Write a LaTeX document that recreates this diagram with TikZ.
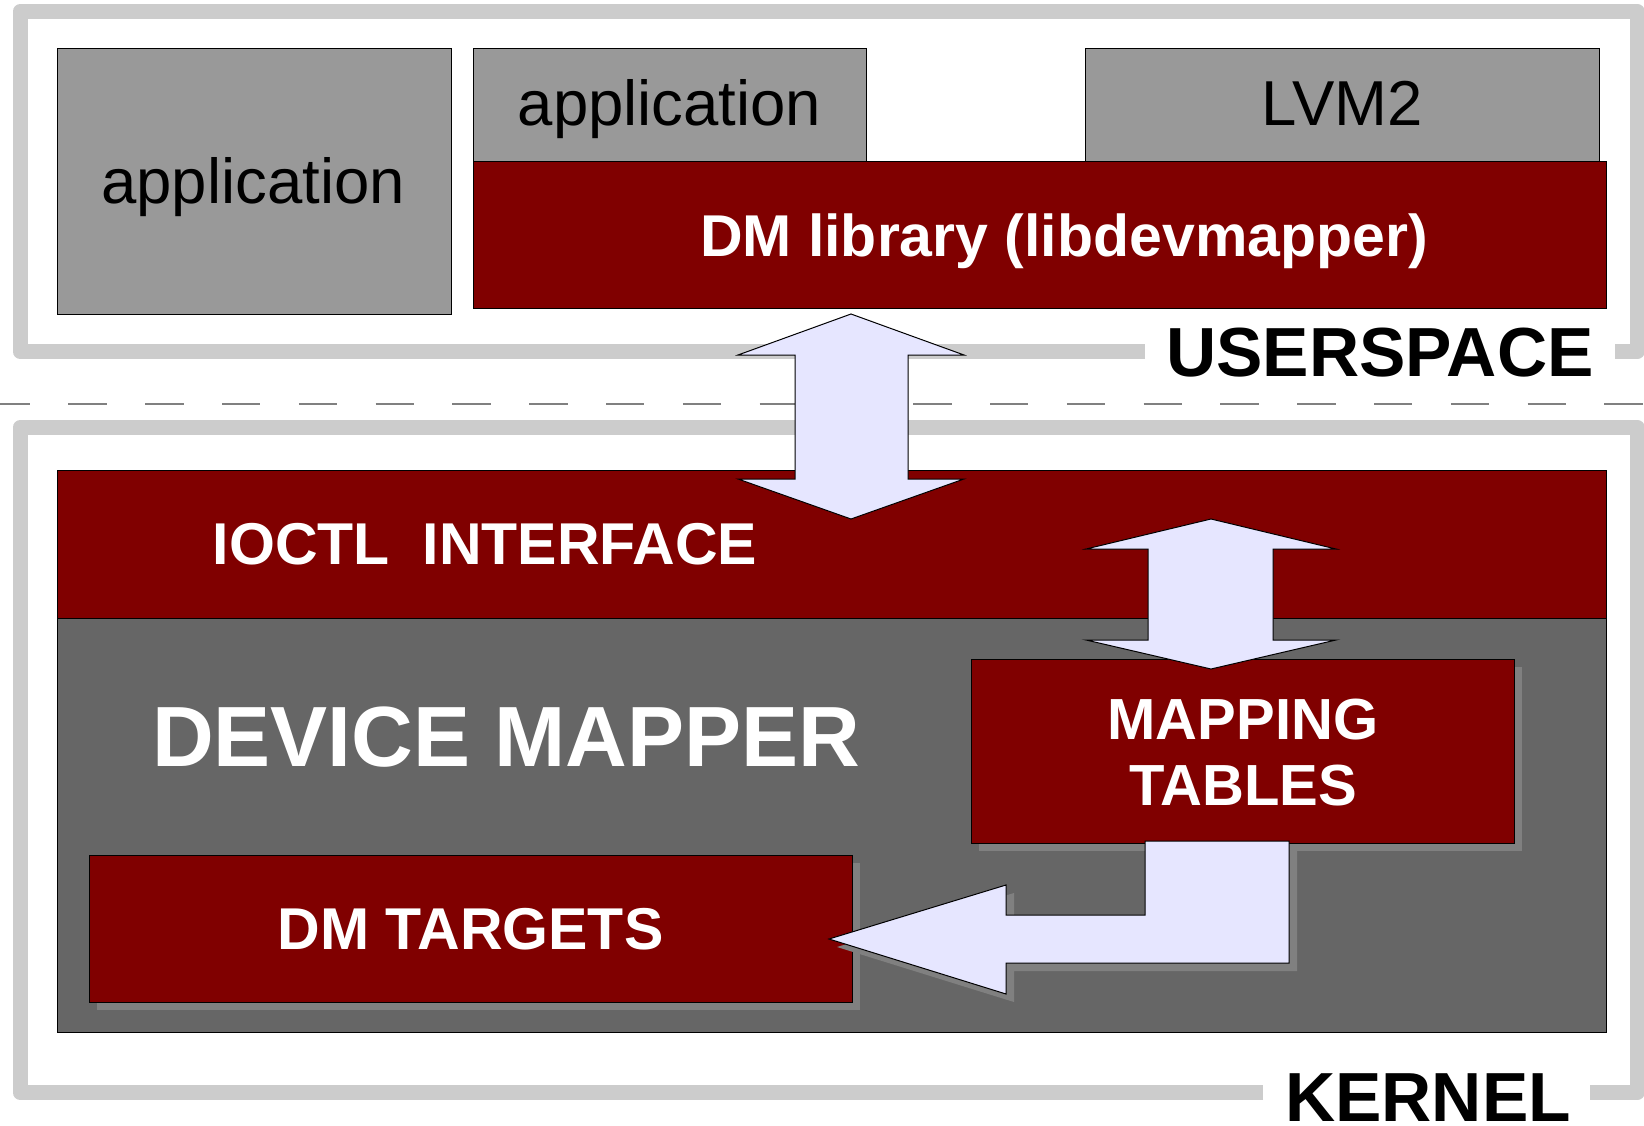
\documentclass[tikz,border=0pt]{standalone}
\usepackage{fontspec}
\setmainfont{Liberation Sans}
\definecolor{dmred}{HTML}{800000}
\definecolor{appgray}{HTML}{999999}
\definecolor{dmgray}{HTML}{666666}
\definecolor{shade}{HTML}{808080}
\definecolor{arrowfill}{HTML}{E6E6FF}
\definecolor{framegray}{HTML}{CCCCCC}
\begin{document}
\begin{tikzpicture}[x=1pt,y=-1pt,
  frame/.style={draw=framegray, line width=15pt, line join=round},
  gbox/.style={fill=appgray, draw=black, line width=1pt},
  rbox/.style={fill=dmred, draw=black, line width=1pt},
  shadowbox/.style={fill=shade},
  blockarrow/.style={fill=arrowfill, draw=black, line width=1pt, line join=miter},
  plaintext/.style={font=\fontsize{63.5}{70}\selectfont, text=black, inner sep=0pt, anchor=base},
  boxtext/.style={font=\fontsize{59}{66}\selectfont\bfseries, text=white, inner sep=0pt, anchor=base},
  zonetext/.style={font=\fontsize{69.5}{76}\selectfont\bfseries, text=black, inner sep=0pt, anchor=base}]
\useasboundingbox (0,0) rectangle (1644,1126);
\fill[white] (0,0) rectangle (1644,1126);

% zone frames
\draw[frame] (1145,351.5) -- (20,351.5) -- (20,11.5) -- (1637,11.5) -- (1637,351.5) -- (1615,351.5);
\draw[frame] (1263,1092.5) -- (20,1092.5) -- (20,427.5) -- (1637,427.5) -- (1637,1092.5) -- (1590,1092.5);

% userspace / kernel boundary
\draw[draw=shade, line width=2pt, dash pattern=on 38.4pt off 38.4pt, dash phase=8.4pt] (0,404) -- (1644,404);

% userspace boxes
\draw[gbox] (57,49) rectangle (451,314);
\draw[gbox] (473,49) rectangle (866,162);
\draw[gbox] (1085,49) rectangle (1599,162);
\draw[rbox] (473,162) rectangle (1606,308);

% kernel boxes
\fill[dmgray] (57,618) rectangle (1606,1032);
\fill[dmred] (57,470) rectangle (1606,618);
\draw[line width=1pt] (57,618) -- (1606,618);
\draw[line width=1pt] (57,470) rectangle (1606,1032);

\fill[shadowbox] (979,667) rectangle (1522,851);
\draw[rbox] (971,659) rectangle (1514,843);
\fill[shadowbox] (97,863) rectangle (860,1010);
\draw[rbox] (89,855) rectangle (852,1002);

% block arrows
\draw[blockarrow] (851,314) -- (964,355) -- (908,355) -- (908,479) -- (964,479) -- (851,519)
  -- (738,479) -- (795,479) -- (795,355) -- (738,355) -- cycle;
\draw[blockarrow] (1211,519) -- (1336,549) -- (1273,549) -- (1273,640) -- (1336,640) -- (1211,669)
  -- (1086,640) -- (1148,640) -- (1148,549) -- (1086,549) -- cycle;
\fill[shadowbox, shift={(8,8)}] (1145,841) -- (1289,841) -- (1289,963) -- (1006,963) -- (1006,994)
  -- (829,939) -- (1006,885) -- (1006,915) -- (1145,915) -- cycle;
\draw[blockarrow] (1145,841) -- (1289,841) -- (1289,963) -- (1006,963) -- (1006,994)
  -- (829,939) -- (1006,885) -- (1006,915) -- (1145,915) -- cycle;

% labels
\node[plaintext] (app1) at (253,204) {application};
\node[plaintext] (app2) at (669.5,126) {application};
\node[plaintext] (lvm) at (1342,126) {LVM2};
\node[boxtext] (dmlib) at (1064,256) {DM library (libdevmapper)};
\node[boxtext] (ioctl) at (485,564) {IOCTL\ \ INTERFACE};
\node[boxtext, font=\fontsize{85.5}{92}\selectfont\bfseries] (dm) at (506,766) {DEVICE MAPPER};
\node[boxtext, font=\fontsize{58}{66}\selectfont\bfseries] (map1) at (1243,739) {MAPPING};
\node[boxtext, font=\fontsize{58}{66}\selectfont\bfseries] (map2) at (1243,805) {TABLES};
\node[boxtext] (targets) at (470.5,949) {DM TARGETS};
\node[zonetext] (user) at (1380,376) {USERSPACE};
\node[zonetext] (kernel) at (1428,1121) {KERNEL};
\end{tikzpicture}
\end{document}
